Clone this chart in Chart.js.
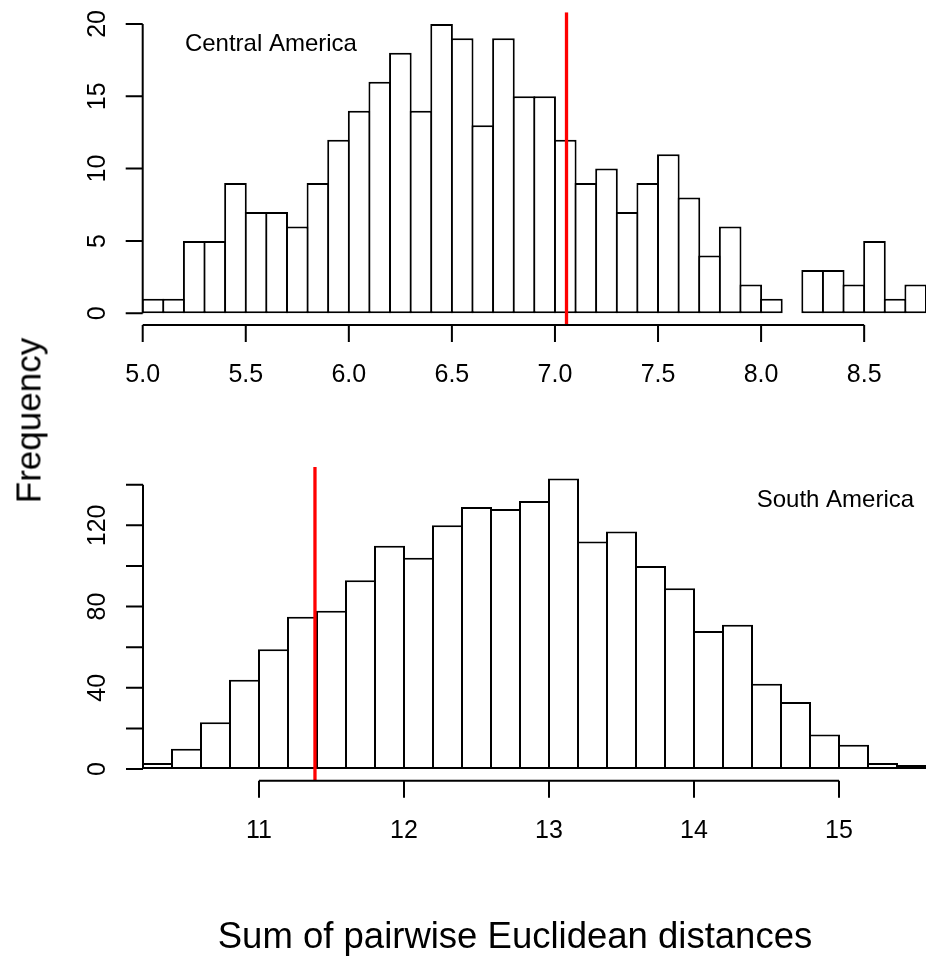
<!DOCTYPE html>
<html>
<head>
<meta charset="utf-8">
<script src="https://cdn.jsdelivr.net/npm/chart.js@4.4.1/dist/chart.umd.min.js"></script>
<style>
body { margin: 0; background: #fff; }
#page { position: relative; width: 927px; height: 958px; overflow: hidden; background: #fff; font-family: 'Liberation Sans', Arial, sans-serif; }
canvas { position: absolute; left: 0; top: 0; }
.lab { position: absolute; white-space: nowrap; color: #000; text-align: center; }
</style>
</head>
<body>
<div id="page">
  <canvas id="centralChart" width="927" height="958"></canvas>
  <canvas id="southChart" width="927" height="958"></canvas>
  <div class="lab" id="ylab" style="font-size:35px; line-height:35px; left:-122px; top:402.5px; width:300px; transform:rotate(-90deg);">Frequency</div>
  <div class="lab" id="xlab" style="font-size:36.5px; line-height:36.5px; left:215px; top:918px; width:600px;">Sum of pairwise Euclidean distances</div>
</div>
<script>
// Central America: bin mid points (bins 0.1 wide) and counts
const caMids = [5.05, 5.15, 5.25, 5.35, 5.45, 5.55, 5.65, 5.75, 5.85, 5.95,
                6.05, 6.15, 6.25, 6.35, 6.45, 6.55, 6.65, 6.75, 6.85, 6.95,
                7.05, 7.15, 7.25, 7.35, 7.45, 7.55, 7.65, 7.75, 7.85, 7.95,
                8.05, 8.15, 8.25, 8.35, 8.45, 8.55, 8.65, 8.75];
const caCounts = [1, 1, 5, 5, 9, 7, 7, 6, 9, 12,
                  14, 16, 18, 14, 20, 19, 13, 19, 15, 15,
                  12, 9, 10, 7, 9, 11, 8, 4, 6, 2,
                  1, 0, 3, 3, 2, 5, 1, 2];
const caObserved = 7.056;
const caXTicks = [5.0, 5.5, 6.0, 6.5, 7.0, 7.5, 8.0, 8.5];
const caXLabels = ['5.0', '5.5', '6.0', '6.5', '7.0', '7.5', '8.0', '8.5'];
const caYTicks = [0, 5, 10, 15, 20];
const caYLabels = ['0', '5', '10', '15', '20'];

// South America: bin mid points (bins 0.2 wide) and counts
const saMids = [10.3, 10.5, 10.7, 10.9, 11.1, 11.3, 11.5, 11.7, 11.9, 12.1,
                12.3, 12.5, 12.7, 12.9, 13.1, 13.3, 13.5, 13.7, 13.9, 14.1,
                14.3, 14.5, 14.7, 14.9, 15.1, 15.3, 15.5];
const saCounts = [3, 10, 23, 44, 59, 75, 78, 93, 110, 104,
                  120, 129, 128, 132, 143, 112, 117, 100, 89, 68,
                  71, 42, 33, 17, 12, 3, 2];
const saObserved = 11.386;
const saXTicks = [11, 12, 13, 14, 15];
const saXLabels = ['11', '12', '13', '14', '15'];
const saYTicks = [0, 20, 40, 60, 80, 100, 120, 140];
const saYLabels = ['0', '', '40', '', '80', '', '120', ''];

const FONT = "'Liberation Sans', Arial, sans-serif";

// R style axes: lines only span the ticks, ticks point outwards
const rAxes = {
    id: 'rAxes',
    afterDraw(chart, args, o) {
        const ctx = chart.ctx;
        const xs = chart.scales.x, ys = chart.scales.y;
        const area = chart.chartArea;
        const tick = 17;
        ctx.save();
        ctx.strokeStyle = '#000';
        ctx.fillStyle = '#000';
        ctx.lineWidth = 2;

        // x axis
        const yb = area.bottom;
        ctx.beginPath();
        ctx.moveTo(xs.getPixelForValue(o.xTicks[0]), yb);
        ctx.lineTo(xs.getPixelForValue(o.xTicks[o.xTicks.length - 1]), yb);
        o.xTicks.forEach(v => {
            const p = xs.getPixelForValue(v);
            ctx.moveTo(p, yb);
            ctx.lineTo(p, yb + tick);
        });
        ctx.stroke();
        ctx.font = '25px ' + FONT;
        ctx.textAlign = 'center';
        ctx.textBaseline = 'alphabetic';
        o.xTicks.forEach((v, i) => ctx.fillText(o.xLabels[i], xs.getPixelForValue(v), yb + 57));

        // y axis
        const xl = area.left;
        ctx.beginPath();
        ctx.moveTo(xl, ys.getPixelForValue(o.yTicks[0]));
        ctx.lineTo(xl, ys.getPixelForValue(o.yTicks[o.yTicks.length - 1]));
        o.yTicks.forEach(v => {
            const p = ys.getPixelForValue(v);
            ctx.moveTo(xl, p);
            ctx.lineTo(xl - tick, p);
        });
        ctx.stroke();
        o.yTicks.forEach((v, i) => {
            if (!o.yLabels[i]) return;
            ctx.save();
            ctx.translate(xl - 38, ys.getPixelForValue(v));
            ctx.rotate(-Math.PI / 2);
            ctx.fillText(o.yLabels[i], 0, 0);
            ctx.restore();
        });

        // panel label
        ctx.font = '24px ' + FONT;
        ctx.fillText(o.note.text, xs.getPixelForValue(o.note.x), ys.getPixelForValue(o.note.y));
        ctx.restore();
    }
};

function makeHist(id, mids, counts, observed, yMin, yMax, xMin, xMax, pad, barPct, axes) {
    const bars = mids.map((m, i) => ({ x: m, y: counts[i] }));
    return new Chart(document.getElementById(id), {
        type: 'bar',
        data: {
            datasets: [
                {
                    type: 'line',
                    data: [{ x: observed, y: yMin }, { x: observed, y: yMax }],
                    borderColor: '#ff0000',
                    borderWidth: 3.3,
                    pointRadius: 0,
                    order: 0
                },
                {
                    data: bars,
                    backgroundColor: '#ffffff',
                    borderColor: '#000000',
                    borderWidth: 2,
                    borderSkipped: false,
                    barPercentage: barPct,
                    categoryPercentage: 1,
                    order: 1
                }
            ]
        },
        options: {
            responsive: false,
            animation: false,
            events: [],
            layout: { padding: pad },
            plugins: {
                legend: { display: false },
                tooltip: { enabled: false },
                rAxes: axes
            },
            scales: {
                x: { type: 'linear', min: xMin, max: xMax, offset: false, display: false },
                y: { type: 'linear', min: yMin, max: yMax, display: false }
            }
        },
        plugins: [rAxes]
    });
}

makeHist('centralChart', caMids, caCounts, caObserved, -0.8, 20.8, 5.0, 8.8,
    { left: 142.7, right: 1, top: 12.3, bottom: 958 - 324.9 }, 1.097,
    { xTicks: caXTicks, xLabels: caXLabels, yTicks: caYTicks, yLabels: caYLabels,
      note: { text: 'Central America', x: 5.622, y: 18.15 } });

makeHist('southChart', saMids, saCounts, saObserved, -5.72, 148.72, 10.2, 15.6,
    { left: 143, right: 1, top: 467, bottom: 958 - 780.7 }, 1.069,
    { xTicks: saXTicks, xLabels: saXLabels, yTicks: saYTicks, yLabels: saYLabels,
      note: { text: 'South America', x: 14.975, y: 129.1 } });
</script>
</body>
</html>
